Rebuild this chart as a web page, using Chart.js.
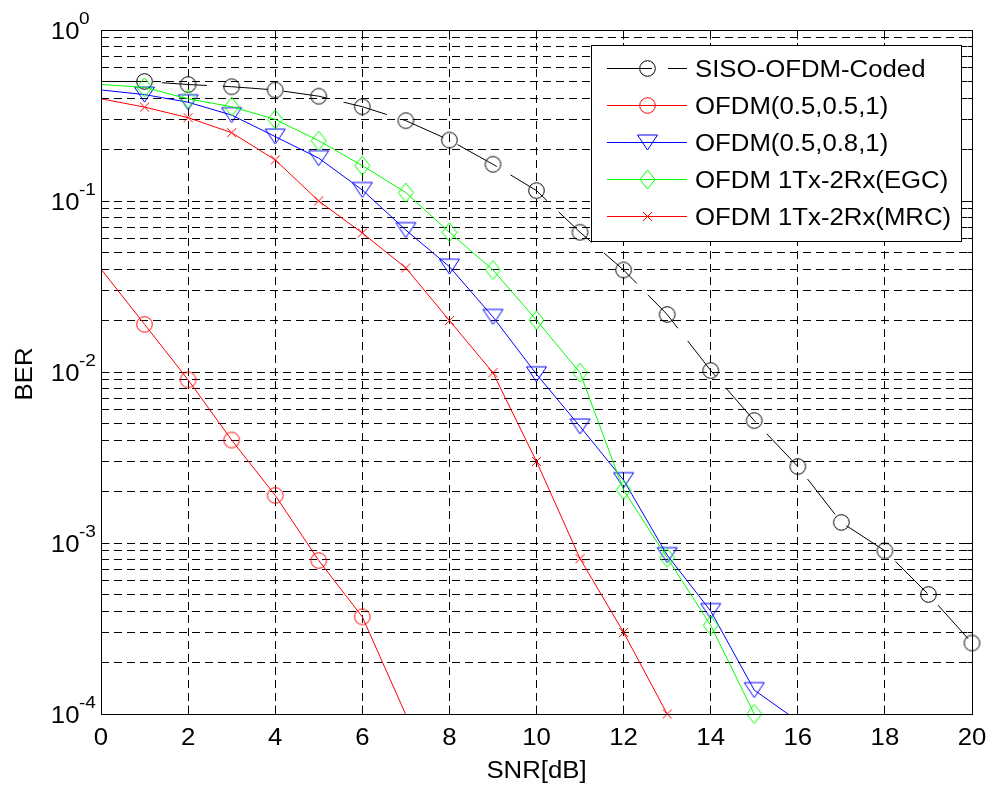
<!DOCTYPE html>
<html>
<head>
<meta charset="utf-8">
<script src="https://cdn.jsdelivr.net/npm/chart.js@4.4.1/dist/chart.umd.min.js"></script>
<style>
  html, body { margin: 0; padding: 0; background: #fff; }
  #berChart { display: block; }
</style>
</head>
<body>
<canvas id="berChart" width="989" height="785"></canvas>
<script>
// SNR points (dB)
const snr = [0, 1, 2, 3, 4, 5, 6, 7, 8, 9, 10, 11, 12, 13, 14, 15, 16, 17, 18, 19, 20];

// BER values, one entry per SNR point
const sisoCoded = [0.50, 0.50, 0.48, 0.466, 0.446, 0.41, 0.356, 0.295, 0.227, 0.164, 0.115,
    0.0656, 0.0395, 0.0217, 0.0102, 0.0052, 0.0028, 0.00132, 0.0009, 0.0005, 0.00026];
const ofdm055 = [0.04, 0.019, 0.009, 0.004, 0.0019, 0.00079, 0.00037, 0.000099];
const ofdm058 = [0.446, 0.419, 0.378, 0.318, 0.238, 0.178, 0.116, 0.0676, 0.0413, 0.021,
    0.0097, 0.0048, 0.00233, 0.00085, 0.0004, 0.000138, 0.000091];
const egc = [0.48, 0.462, 0.396, 0.356, 0.30, 0.225, 0.161, 0.112, 0.0656, 0.0395, 0.0201,
    0.0099, 0.00204, 0.00082, 0.00033, 0.0001];
const mrc = [0.396, 0.354, 0.307, 0.251, 0.174, 0.1, 0.065, 0.0406, 0.02, 0.0099, 0.003,
    0.00081, 0.0003, 0.0001];

const seriesLabels = ['SISO-OFDM-Coded', 'OFDM(0.5,0.5,1)', 'OFDM(0.5,0.8,1)',
    'OFDM 1Tx-2Rx(EGC)', 'OFDM 1Tx-2Rx(MRC)'];

// Axis ticks
const xTicks = [0, 2, 4, 6, 8, 10, 12, 14, 16, 18, 20];
const yTickExponents = [0, -1, -2, -3, -4];
const xTitle = 'SNR[dB]';
const yTitle = 'BER';

const FONT = '"Liberation Sans", Arial, Helvetica, sans-serif';
const STRETCH = 1.12; // the reference text is a bit wider than Liberation Sans

// Build a hollow marker as a small canvas so line and legend share it
function makeMarker(shape, color) {
    const sizes = { circle: [19, 19], triangle: [23, 19], diamond: [19, 23], cross: [11, 11] };
    const c = document.createElement('canvas');
    c.width = sizes[shape][0];
    c.height = sizes[shape][1];
    const g = c.getContext('2d');
    const cx = c.width / 2, cy = c.height / 2;
    g.strokeStyle = color;
    g.lineWidth = 1;
    g.beginPath();
    if (shape === 'circle') {
        g.arc(cx, cy, 7.8, 0, Math.PI * 2);
    } else if (shape === 'triangle') {
        g.moveTo(cx - 10, cy - 7.5);
        g.lineTo(cx + 10, cy - 7.5);
        g.lineTo(cx, cy + 7.5);
        g.closePath();
    } else if (shape === 'diamond') {
        g.moveTo(cx, cy - 9.5);
        g.lineTo(cx + 7.5, cy);
        g.lineTo(cx, cy + 9.5);
        g.lineTo(cx - 7.5, cy);
        g.closePath();
    } else {
        g.moveTo(cx - 4.5, cy - 4.5);
        g.lineTo(cx + 4.5, cy + 4.5);
        g.moveTo(cx + 4.5, cy - 4.5);
        g.lineTo(cx - 4.5, cy + 4.5);
    }
    g.stroke();
    return c;
}

const series = [
    { label: seriesLabels[0], values: sisoCoded, color: '#000000', dash: [45, 16], marker: makeMarker('circle', '#000000') },
    { label: seriesLabels[1], values: ofdm055, color: '#ff0000', dash: [], marker: makeMarker('circle', '#ff0000') },
    { label: seriesLabels[2], values: ofdm058, color: '#0000ff', dash: [], marker: makeMarker('triangle', '#0000ff') },
    { label: seriesLabels[3], values: egc, color: '#00ff00', dash: [], marker: makeMarker('diamond', '#00ff00') },
    { label: seriesLabels[4], values: mrc, color: '#ff0000', dash: [], marker: makeMarker('cross', '#ff0000') }
];

const yMax = Math.pow(10, Math.max(...yTickExponents));
const yMin = Math.pow(10, Math.min(...yTickExponents));

// Decades plus 2..9 multiples for the log grid
const yTicks = [];
yTickExponents.slice().sort((a, b) => a - b).forEach(e => {
    const base = Math.pow(10, e);
    yTicks.push(base);
    if (base < yMax) {
        for (let m = 2; m <= 9; m++) yTicks.push(m * base);
    }
});

function isDecade(v) {
    const l = Math.log10(v);
    return Math.abs(l - Math.round(l)) < 1e-9;
}

// Text helper with horizontal stretch
function drawText(ctx, text, x, y, align, size) {
    ctx.save();
    ctx.font = size + 'px ' + FONT;
    const w = ctx.measureText(text).width * STRETCH;
    const left = align === 'center' ? x - w / 2 : align === 'right' ? x - w : x;
    ctx.translate(left, y);
    ctx.scale(STRETCH, 1);
    ctx.fillStyle = '#000';
    ctx.textAlign = 'left';
    ctx.textBaseline = 'alphabetic';
    ctx.fillText(text, 0, 0);
    ctx.restore();
}

const align = p => Math.round(p - 0.5) + 0.5;

function strokeLine(ctx, x1, y1, x2, y2) {
    ctx.beginPath();
    ctx.moveTo(x1, y1);
    ctx.lineTo(x2, y2);
    ctx.stroke();
}

// Box, inward ticks, tick labels, titles and the legend, MATLAB style
const matlabAxes = {
    id: 'matlabAxes',
    afterDraw(chart) {
        const { ctx, chartArea: a, scales: { x, y } } = chart;
        const left = align(a.left), right = align(a.right);
        const top = align(a.top), bottom = align(a.bottom);
        ctx.save();
        ctx.strokeStyle = '#000';
        ctx.lineWidth = 1;
        ctx.setLineDash([]);

        y.ticks.forEach(t => {
            const py = align(y.getPixelForValue(t.value));
            const len = isDecade(t.value) ? 8 : 5;
            strokeLine(ctx, left, py, left + len, py);
            strokeLine(ctx, right - len, py, right, py);
        });
        x.ticks.forEach(t => {
            const px = align(x.getPixelForValue(t.value));
            strokeLine(ctx, px, bottom, px, bottom - 9);
            strokeLine(ctx, px, top, px, top + 9);
        });
        ctx.strokeRect(left, top, right - left, bottom - top);

        // y tick labels as 10 with a raised exponent
        y.ticks.filter(t => isDecade(t.value)).forEach(t => {
            const py = y.getPixelForValue(t.value);
            drawText(ctx, '10', 79.5, py + 9, 'right', 23);
            drawText(ctx, String(Math.round(Math.log10(t.value))), 79, py - 6, 'left', 17);
        });
        x.ticks.forEach(t => {
            drawText(ctx, String(t.value), x.getPixelForValue(t.value), 745, 'center', 23);
        });

        drawText(ctx, xTitle, (a.left + a.right) / 2, 778, 'center', 23);
        ctx.save();
        ctx.translate(32, 374);
        ctx.rotate(-Math.PI / 2);
        drawText(ctx, yTitle, 0, 0, 'center', 23);
        ctx.restore();

        // Legend box inside the axes
        const lx = 591.5, ly = 45.5, lw = 370, lh = 196;
        ctx.fillStyle = '#fff';
        ctx.fillRect(lx, ly, lw, lh);
        ctx.strokeStyle = '#000';
        ctx.strokeRect(lx, ly, lw, lh);
        series.forEach((s, i) => {
            const ry = 68.5 + i * 37;
            ctx.strokeStyle = s.color;
            ctx.setLineDash(s.dash);
            strokeLine(ctx, 607, ry, 687, ry);
            ctx.setLineDash([]);
            ctx.drawImage(s.marker, Math.round(647 - s.marker.width / 2), Math.round(ry - s.marker.height / 2));
            drawText(ctx, s.label, 695, ry + 8.5, 'left', 23);
        });
        ctx.restore();
    }
};

// One line dataset and one marker dataset per series
const datasets = [];
series.forEach((s, i) => {
    const pts = s.values.map((v, k) => ({ x: snr[k], y: v }));
    const order = (series.length - i) * 2;
    datasets.push({
        label: s.label,
        data: pts,
        borderColor: s.color,
        borderWidth: 1,
        borderDash: s.dash,
        pointRadius: 0,
        fill: false,
        tension: 0,
        clip: 0,
        order: order
    });
    datasets.push({
        label: s.label + ' markers',
        data: pts.filter(p => p.x > snr[0] && p.y >= yMin),
        showLine: false,
        pointStyle: s.marker,
        pointRadius: 8,
        borderColor: s.color,
        clip: false,
        order: order - 1
    });
});

const gridStyle = { color: '#000', lineWidth: 1, drawTicks: false };

new Chart(document.getElementById('berChart').getContext('2d'), {
    type: 'line',
    data: { datasets },
    options: {
        responsive: false,
        animation: false,
        devicePixelRatio: 1,
        layout: { padding: { top: 30, right: 17, left: 0, bottom: 0 } },
        plugins: {
            legend: { display: false },
            tooltip: { enabled: false }
        },
        scales: {
            x: {
                type: 'linear',
                min: snr[0],
                max: snr[snr.length - 1],
                afterBuildTicks: scale => { scale.ticks = xTicks.map(v => ({ value: v })); },
                afterFit: scale => { scale.height = 71; },
                ticks: { display: false },
                grid: gridStyle,
                border: { display: false, dash: [8, 5] }
            },
            y: {
                type: 'logarithmic',
                min: yMin,
                max: yMax,
                afterBuildTicks: scale => { scale.ticks = yTicks.map(v => ({ value: v })); },
                afterFit: scale => { scale.width = 101; },
                ticks: { display: false },
                grid: gridStyle,
                border: { display: false, dash: [8, 5] }
            }
        }
    },
    plugins: [matlabAxes]
});
</script>
</body>
</html>
